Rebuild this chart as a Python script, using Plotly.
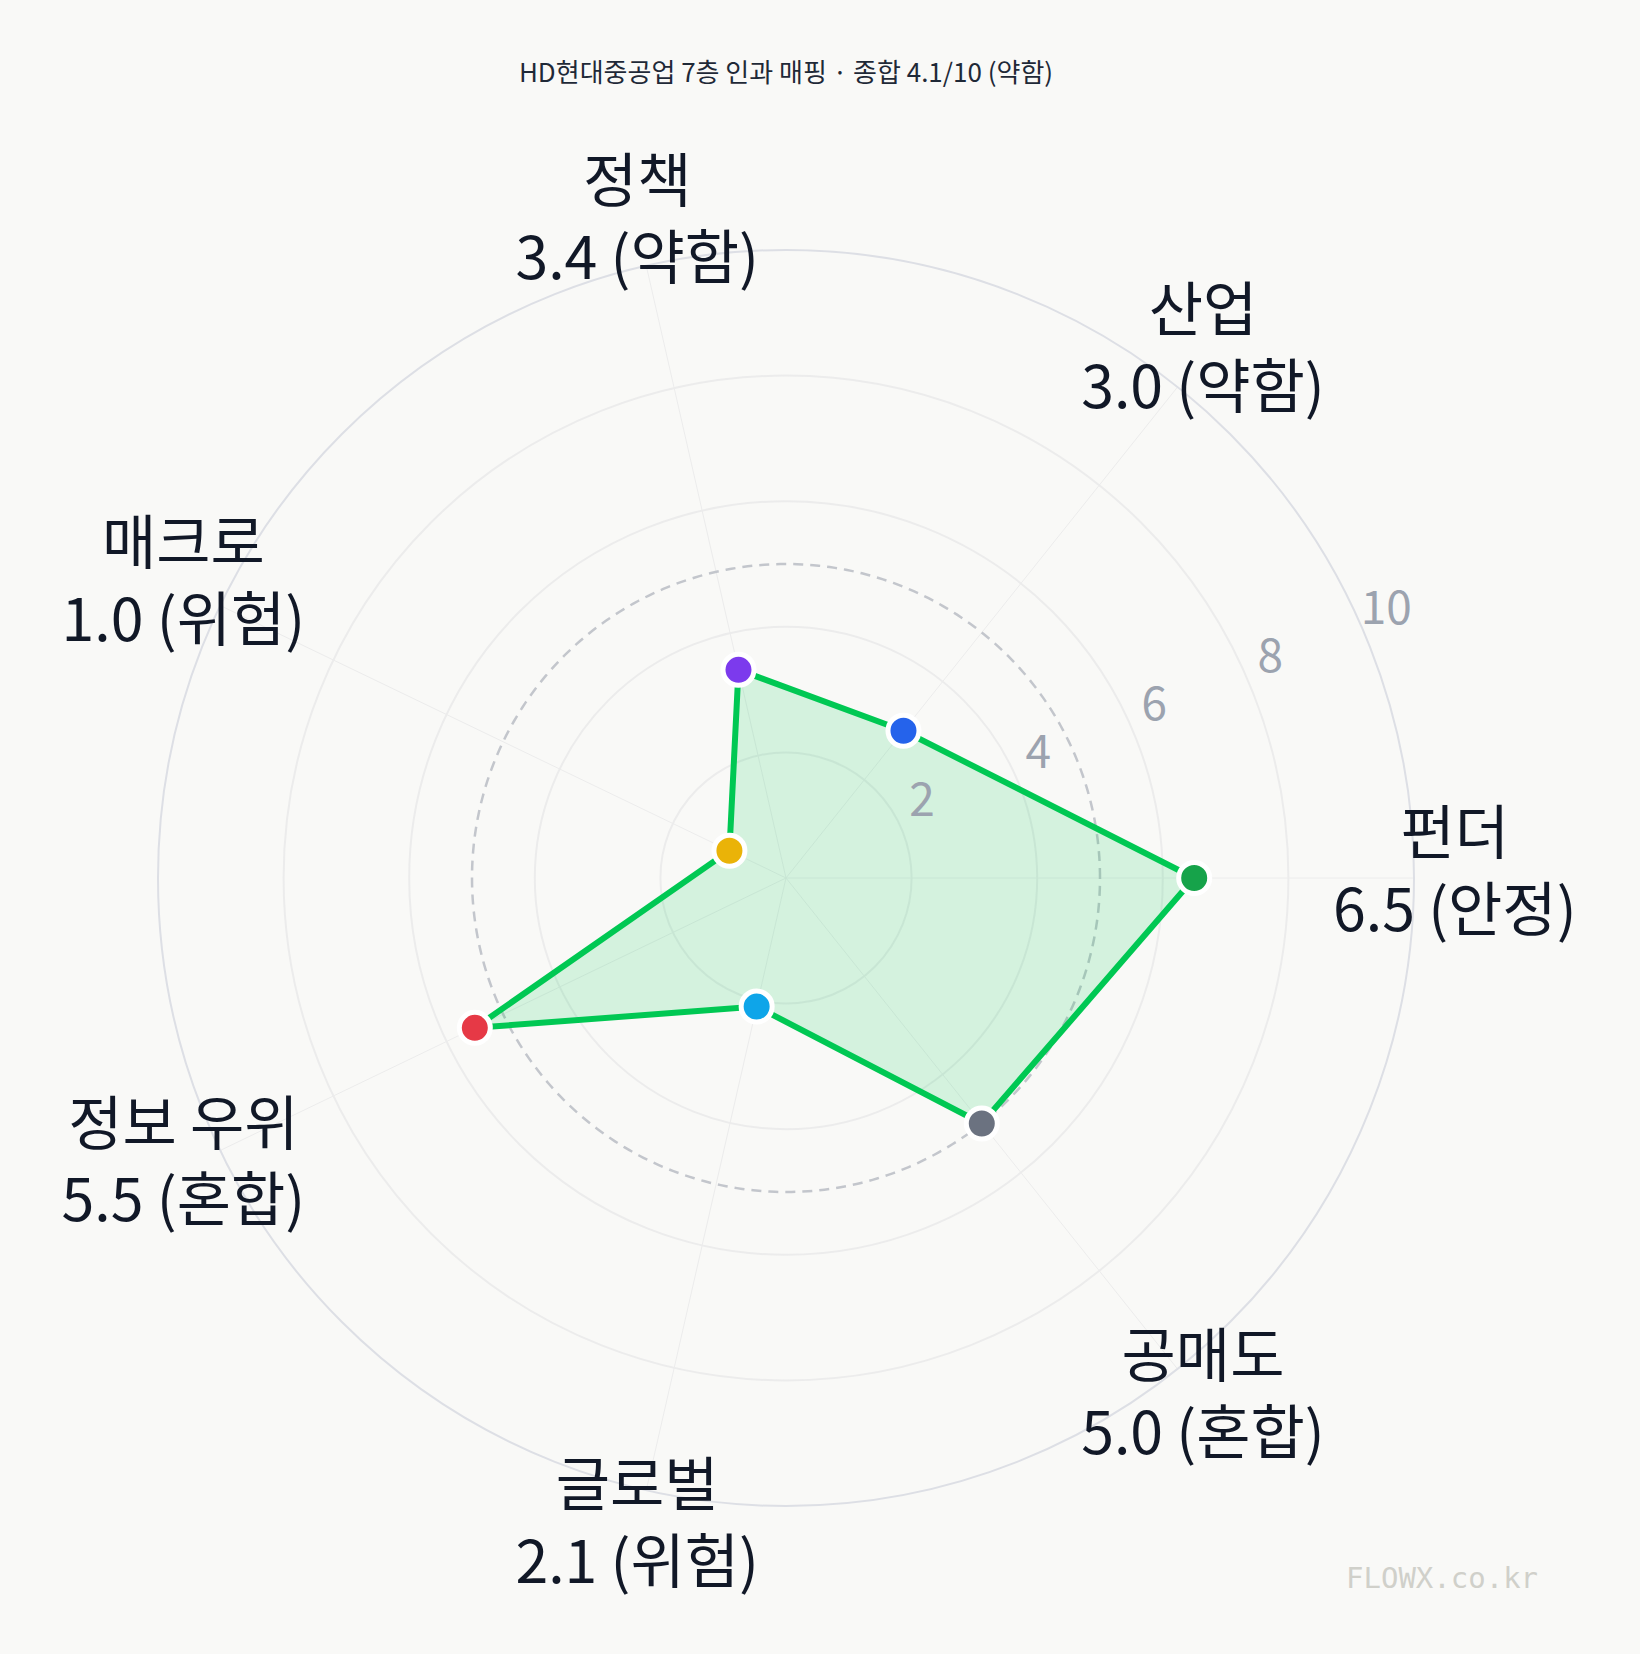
import math
import numpy as np
import plotly.graph_objects as go

categories = ["펀더", "산업", "정책", "매크로", "정보 우위", "글로벌", "공매도"]
scores = [6.5, 3.0, 3.4, 1.0, 5.5, 2.1, 5.0]
grades = ["안정", "약함", "약함", "위험", "혼합", "위험", "혼합"]
point_colors = ["#16a34a", "#2563eb", "#7c3aed", "#eab308", "#e63946", "#0ea5e9", "#6b7280"]
radial_ticks = [2, 4, 6, 8, 10]
threshold = 5
title_text = "HD현대중공업 7층 인과 매핑 · 종합 4.1/10 (약함)"
watermark = "FLOWX.co.kr"

W, H = 1640, 1654
BG = "#f9f9f7"
FONT = "Noto Sans CJK KR"

# layout geometry (pixels)
CX, CY, RAD = 786, 878, 628
OUTER = 1.2  # overlay polar scale factor
AXIS_ANGLE = 22.5

labels = [f"{c}<br>{s:.1f} ({g})" for c, s, g in zip(categories, scores, grades)]
cat_theta = [i * 360 / len(categories) for i in range(len(categories))]

tick_r = [math.hypot(t + 0.45, 0.25) for t in radial_ticks]
tick_theta = [AXIS_ANGLE + math.degrees(math.atan2(0.25, t + 0.45)) for t in radial_ticks]

fig = go.Figure()

# invisible trace on the grid polar so it renders
fig.add_trace(go.Scatterpolar(
    r=scores, theta=categories, mode="markers", marker=dict(opacity=0),
    hoverinfo="skip", showlegend=False,
))

# threshold dashed circle (overlay polar)
circ_theta = np.linspace(0, 360, 361)
fig.add_trace(go.Scatterpolar(
    r=[threshold] * len(circ_theta), theta=circ_theta,
    mode="lines", line=dict(color="#c3c6cc", width=2.5, dash="10px,7px"),
    hoverinfo="skip", showlegend=False, subplot="polar2",
))

# main polygon
fig.add_trace(go.Scatterpolar(
    r=scores + scores[:1], theta=cat_theta + cat_theta[:1],
    mode="lines", fill="toself", fillcolor="rgba(0,200,83,0.15)",
    line=dict(color="#00c853", width=6),
    hoverinfo="skip", showlegend=False, subplot="polar2",
))

# markers
fig.add_trace(go.Scatterpolar(
    r=scores, theta=cat_theta, mode="markers",
    marker=dict(size=31, color=point_colors, line=dict(color="white", width=5)),
    text=categories, hoverinfo="text+r",
    showlegend=False, subplot="polar2",
))

# radial tick labels (overlay polar)
fig.add_trace(go.Scatterpolar(
    r=tick_r, theta=tick_theta, mode="text",
    text=[str(t) for t in radial_ticks], textposition="middle center",
    textfont=dict(size=46, color="#9ca3af", family=FONT),
    cliponaxis=False, hoverinfo="skip", showlegend=False, subplot="polar2",
))

# category labels (overlay polar)
fig.add_trace(go.Scatterpolar(
    r=[10.65] * len(categories), theta=cat_theta, mode="text",
    text=labels, textposition="middle center",
    textfont=dict(size=59, color="#111827", family=FONT),
    cliponaxis=False, hoverinfo="skip", showlegend=False, subplot="polar2",
))

dom_x = [(CX - RAD) / W, (CX + RAD) / W]
dom_y = [1 - (CY + RAD) / H, 1 - (CY - RAD) / H]
R2 = RAD * OUTER
dom2_x = [(CX - R2) / W, (CX + R2) / W]
dom2_y = [1 - (CY + R2) / H, 1 - (CY - R2) / H]

fig.update_layout(
    width=W, height=H,
    margin=dict(l=0, r=0, t=0, b=0),
    paper_bgcolor=BG, plot_bgcolor=BG,
    font=dict(family=FONT),
    title=dict(text=title_text, x=CX / W, xanchor="center", y=1 - 73 / H, yanchor="middle",
               font=dict(size=26, color="#1f2937", family=FONT)),
    polar=dict(
        domain=dict(x=dom_x, y=dom_y),
        bgcolor="rgba(0,0,0,0)",
        radialaxis=dict(range=[0, 10], tickvals=radial_ticks, angle=AXIS_ANGLE,
                        showticklabels=False, showline=False, ticks="",
                        gridcolor="#ececec", gridwidth=1.5),
        angularaxis=dict(type="category", categoryarray=categories, rotation=0,
                         direction="counterclockwise", showticklabels=False, ticks="",
                         gridcolor="#ececec", gridwidth=1.2,
                         showline=True, linecolor="#dddfe5", linewidth=2),
    ),
    polar2=dict(
        domain=dict(x=dom2_x, y=dom2_y),
        bgcolor="rgba(0,0,0,0)",
        radialaxis=dict(range=[0, 10 * OUTER], visible=False),
        angularaxis=dict(visible=False, rotation=0, direction="counterclockwise"),
    ),
    annotations=[dict(text=watermark, x=1540 / W, y=1 - 1578 / H, xref="paper", yref="paper",
                      xanchor="right", yanchor="middle", showarrow=False,
                      font=dict(size=29, color="#d0d0ca", family="DejaVu Sans Mono"))],
)

fig.write_html("out.html", config={"displayModeBar": False},
               post_script="document.body.style.margin='0';")
